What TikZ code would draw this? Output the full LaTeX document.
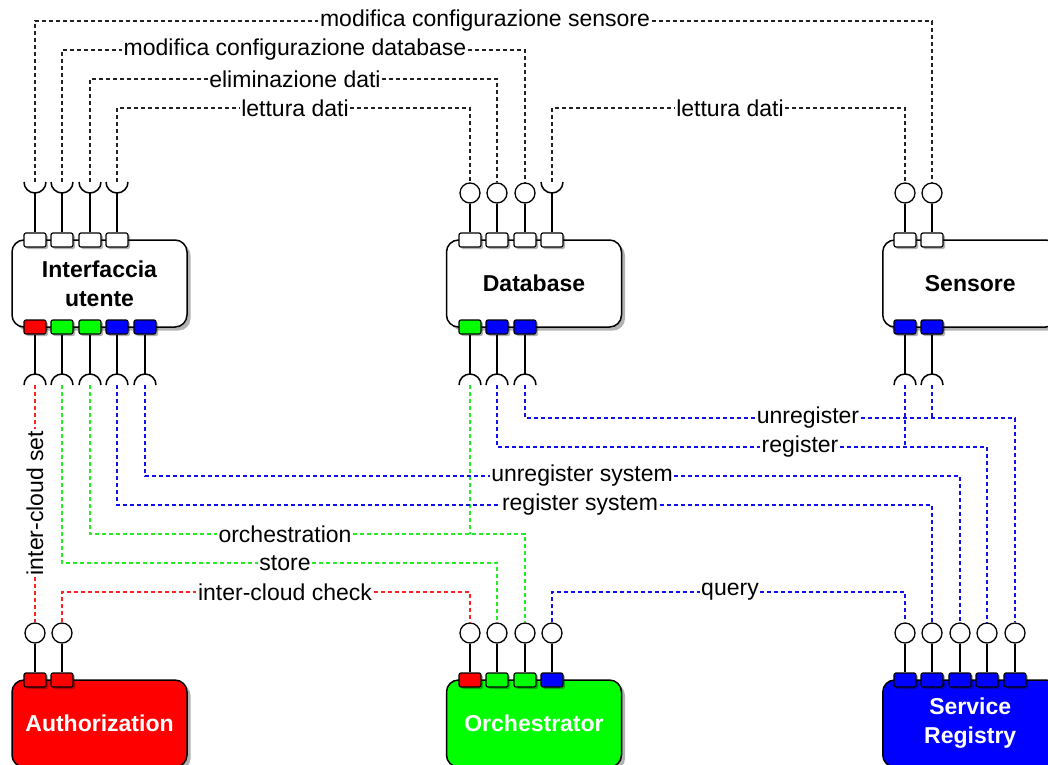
\documentclass[tikz,border=0pt]{standalone}
\usepackage{fontspec}
\setmainfont{Liberation Sans}
\usetikzlibrary{shadows,calc}
\definecolor{cred}{HTML}{FF0000}
\definecolor{cgreen}{HTML}{00FF00}
\definecolor{cblue}{HTML}{0000FF}
\definecolor{dred}{HTML}{FF2222}
\definecolor{dgreen}{HTML}{22EE22}
\definecolor{dblue}{HTML}{1111EE}
\definecolor{dblack}{HTML}{222222}
\begin{document}
\begin{tikzpicture}[x=1pt,y=-1pt,
  comp/.style={draw, line width=1.5pt, rounded corners=12pt, minimum width=175pt,
    minimum height=87pt, inner sep=0pt, align=center,
    font={\fontsize{23}{29}\selectfont\bfseries},
    drop shadow={shadow xshift=3.5pt, shadow yshift=-3.5pt, opacity=0.3, fill=black}},
  port/.style={draw, line width=1.2pt, rounded corners=2pt, minimum width=22pt,
    minimum height=14pt, inner sep=0pt,
    drop shadow={shadow xshift=2pt, shadow yshift=-2pt, opacity=0.3, fill=black}},
  lolli/.style={draw, circle, line width=1.3pt, fill=white, minimum size=20pt, inner sep=0pt},
  stem/.style={line width=1.5pt},
  conn/.style={line width=1.3pt, dash pattern=on 4pt off 3pt},
  lab/.style={fill=white, inner sep=1.5pt, font={\fontsize{23}{27}\selectfont}},
]
\useasboundingbox (0,0) rectangle (1048,764);
\clip (0,0) rectangle (1048,764);

% ---------- components ----------
\node[comp, fill=white] (ui) at (99.5,283.5) {Interfaccia\\utente};
\node[comp, fill=white] (db) at (534,283.5) {Database};
\node[comp, fill=white, anchor=west] (sen) at (882,283.5) {Sensore};
\node[comp, fill=cred, text=white] (auth) at (99.5,723.5) {Authorization};
\node[comp, fill=cgreen, text=white] (orc) at (534,723.5) {Orchestrator};
\node[comp, fill=cblue, text=white, anchor=west] (sr) at (882,723.5) {Service\\Registry};

% ---------- ports ----------
\foreach \i/\x in {1/35,2/62,3/90,4/117}
  \node[port, fill=white] (ui-t\i) at (\x,240) {};
\foreach \i/\x/\c in {1/35/cred,2/62/cgreen,3/90/cgreen,4/117/cblue,5/145/cblue}
  \node[port, fill=\c] (ui-b\i) at (\x,327) {};
\foreach \i/\x in {1/470,2/497,3/525,4/552}
  \node[port, fill=white] (db-t\i) at (\x,240) {};
\foreach \i/\x/\c in {1/470/cgreen,2/497/cblue,3/525/cblue}
  \node[port, fill=\c] (db-b\i) at (\x,327) {};
\foreach \i/\x in {1/905,2/932}
  \node[port, fill=white] (sen-t\i) at (\x,240) {};
\foreach \i/\x in {1/905,2/932}
  \node[port, fill=cblue] (sen-b\i) at (\x,327) {};
\foreach \i/\x in {1/35,2/62}
  \node[port, fill=cred] (auth-t\i) at (\x,680) {};
\foreach \i/\x/\c in {1/470/cred,2/497/cgreen,3/525/cgreen,4/552/cblue}
  \node[port, fill=\c] (orc-t\i) at (\x,680) {};
\foreach \i/\x in {1/905,2/932,3/960,4/987,5/1015}
  \node[port, fill=cblue] (sr-t\i) at (\x,680) {};

% ---------- required interfaces (sockets) ----------
% opening upwards, above a port
\foreach \n/\x in {ui-t1/35,ui-t2/62,ui-t3/90,ui-t4/117,db-t4/552}{
  \coordinate (\n-s) at (\x,182);
  \draw[stem] (\n) -- ($(\n-s)+(0,11)$);
  \draw[stem] ($(\n-s)+(-11,0)$) arc[start angle=180, end angle=360, radius=11pt];
}
% opening downwards, below a port
\foreach \n/\x in {ui-b1/35,ui-b2/62,ui-b3/90,ui-b4/117,ui-b5/145,
                   db-b1/470,db-b2/497,db-b3/525,sen-b1/905,sen-b2/932}{
  \coordinate (\n-s) at (\x,385);
  \draw[stem] (\n) -- ($(\n-s)+(0,-11)$);
  \draw[stem] ($(\n-s)+(-11,0)$) arc[start angle=180, end angle=0, radius=11pt];
}

% ---------- provided interfaces (lollipops) ----------
\foreach \n/\x in {db-t1/470,db-t2/497,db-t3/525,sen-t1/905,sen-t2/932}{
  \node[lolli] (\n-l) at (\x,193) {};
  \draw[stem] (\n-l) -- (\n);
}
\foreach \n/\x in {auth-t1/35,auth-t2/62,orc-t1/470,orc-t2/497,orc-t3/525,orc-t4/552,
                   sr-t1/905,sr-t2/932,sr-t3/960,sr-t4/987,sr-t5/1015}{
  \node[lolli] (\n-l) at (\x,633) {};
  \draw[stem] (\n-l) -- (\n);
}

% ---------- labels ----------
\node[lab] (cfgsen) at (485,21) {modifica configurazione sensore};
\node[lab] (cfgdb) at (295,50) {modifica configurazione database};
\node[lab] (elim) at (295,79) {eliminazione dati};
\node[lab] (readdb) at (295,108) {lettura dati};
\node[lab] (readsen) at (730,108) {lettura dati};
\node[lab, rotate=90] (icset) at (35,503) {inter-cloud set};
\node[lab] (store) at (285,563) {store};
\node[lab] (orch) at (285,534) {orchestration};
\node[lab] (iccheck) at (285,592) {inter-cloud check};
\node[lab] (query) at (730,592) {query};
\node[lab] (regsys) at (580,505) {register system};
\node[lab] (unregsys) at (582,476) {unregister system};
\node[lab] (reg) at (800,447) {register};
\node[lab] (unreg) at (808,418) {unregister};

% ---------- connectors ----------
\draw[conn, dblack] (ui-t1-s) |- (cfgsen) -| (sen-t2-l.north);
\draw[conn, dblack] (ui-t2-s) |- (cfgdb) -| (db-t3-l.north);
\draw[conn, dblack] (ui-t3-s) |- (elim) -| (db-t2-l.north);
\draw[conn, dblack] (ui-t4-s) |- (readdb) -| (db-t1-l.north);
\draw[conn, dblack] (db-t4-s) |- (readsen) -| (sen-t1-l.north);

\draw[conn, dred] (ui-b1-s) -- (icset) -- (auth-t1-l.north);
\draw[conn, dgreen] (ui-b2-s) |- (store) -| (orc-t2-l.north);
\draw[conn, dgreen] (ui-b3-s) |- (orch) -| (orc-t3-l.north);
\draw[conn, dgreen] (db-b1-s) -- (db-b1-s |- orch);
\draw[conn, dred] (auth-t2-l) |- (iccheck) -| (orc-t1-l.north);
\draw[conn, dblue] (orc-t4-l) |- (query) -| (sr-t1-l.north);
\draw[conn, dblue] (ui-b4-s) |- (regsys) -| (sr-t2-l.north);
\draw[conn, dblue] (ui-b5-s) |- (unregsys) -| (sr-t3-l.north);
\draw[conn, dblue] (db-b2-s) |- (reg) -| (sr-t4-l.north);
\draw[conn, dblue] (db-b3-s) |- (unreg) -| (sr-t5-l.north);
\draw[conn, dblue] (sen-b1-s) -- (sen-b1-s |- reg);
\draw[conn, dblue] (sen-b2-s) -- (sen-b2-s |- unreg);
\end{tikzpicture}
\end{document}
